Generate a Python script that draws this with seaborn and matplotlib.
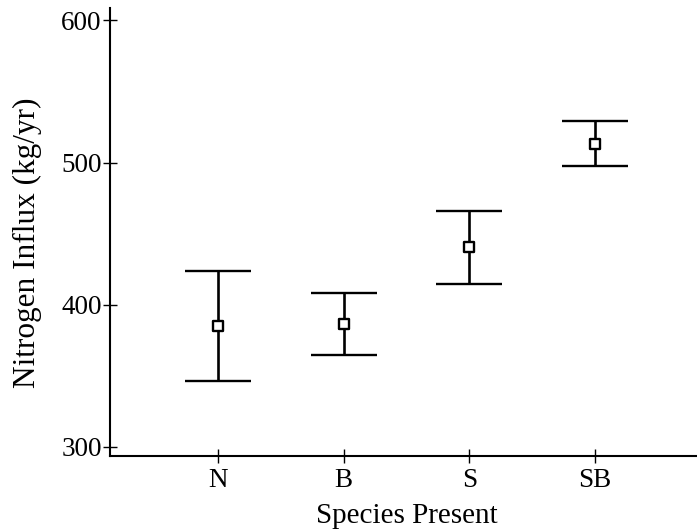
import matplotlib
matplotlib.use("Agg")
import matplotlib.pyplot as plt
import seaborn as sns
import pandas as pd

species = ["N", "B", "S", "SB"]
influx_mean = [385.0, 386.3, 440.3, 513.2]
influx_err = [38.7, 21.7, 25.5, 15.7]
y_ticks = [300, 400, 500, 600]

df = pd.DataFrame({"Species Present": species,
                   "Nitrogen Influx (kg/yr)": influx_mean,
                   "err": influx_err})

sns.set_style("ticks")
plt.rcParams["font.family"] = ["Liberation Serif", "DejaVu Serif"]
plt.rcParams["text.color"] = "black"
plt.rcParams["axes.labelcolor"] = "black"
plt.rcParams["xtick.color"] = "black"
plt.rcParams["ytick.color"] = "black"

fig = plt.figure(figsize=(6.97, 5.32), dpi=100)
ax = fig.add_axes([0.1578, 0.1429, 0.8422, 0.8421])

ax.errorbar(df["Species Present"], df["Nitrogen Influx (kg/yr)"], yerr=df["err"],
            fmt="none", ecolor="black", elinewidth=1.9, capsize=24, capthick=1.7, zorder=2)
sns.scatterplot(data=df, x="Species Present", y="Nitrogen Influx (kg/yr)", ax=ax,
                marker="s", s=45, facecolor="white", edgecolor="black", linewidth=1.7,
                zorder=3)

ax.set_xlim(-0.86, 3.81)
ax.set_ylim(293.4, 608.8)
ax.set_yticks(y_ticks)
ax.set_xlabel("Species Present", fontsize=21)
ax.set_ylabel("Nitrogen Influx (kg/yr)", fontsize=22.5)
ax.xaxis.set_label_coords(0.505, -0.105)
ax.yaxis.set_label_coords(-0.116, 0.475)
ax.tick_params(direction="inout", length=10, width=1, labelsize=19.5, color="black")
ax.tick_params(axis="x", pad=4)
ax.tick_params(axis="y", pad=1)
for side in ["top", "right"]:
    ax.spines[side].set_visible(False)
for side in ["left", "bottom"]:
    ax.spines[side].set_linewidth(1.5)
    ax.spines[side].set_color("black")

fig.savefig("out.png", dpi=100)
